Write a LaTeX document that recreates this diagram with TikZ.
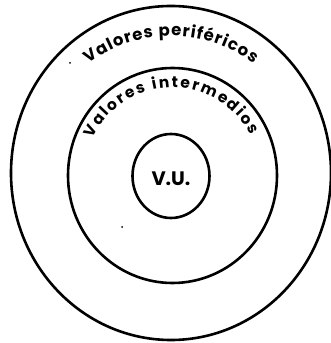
\documentclass[tikz,border=0pt]{standalone}
\usepackage{fontspec}
\setmainfont{Poppins}
\usetikzlibrary{decorations.text,shapes.geometric}
\tikzset{
  ring/.style={draw=black, line width=2.6pt},
  arclabel/.style={decorate, decoration={text along path, text align=fit to path, raise=0pt}},
}
\begin{document}
\begin{tikzpicture}[x=1pt,y=1pt]
\useasboundingbox (0,0) rectangle (331,343);
% rings
\draw[ring] (171,170) ellipse [x radius=160, y radius=167];
\draw[ring] (172.5,167.5) ellipse [x radius=104.5, y radius=107.5];
\node[ring, ellipse, minimum width=77pt, minimum height=84pt, inner sep=0pt] (vu) at (171,167) {};
\node[font=\bfseries\fontsize{19.5}{19.5}\selectfont] (vulabel) at ([yshift=-2.5pt]vu.center) {V.U.};
% curved labels
\path[arclabel, decoration={text={|\bfseries\fontsize{16.5}{16.5}\selectfont|Valores periféricos}}]
  (171,170) ++(127:137) arc[start angle=127, end angle=53, radius=137];
\path[arclabel, decoration={text={|\bfseries\fontsize{15.5}{15.5}\selectfont|Valores intermedios}}]
  (172.5,167.5) ++(155:88) arc[start angle=155, end angle=27, radius=88];
% specks
\fill (70,280) circle (1pt);
\fill (122,116) circle (1pt);
\end{tikzpicture}
\end{document}
